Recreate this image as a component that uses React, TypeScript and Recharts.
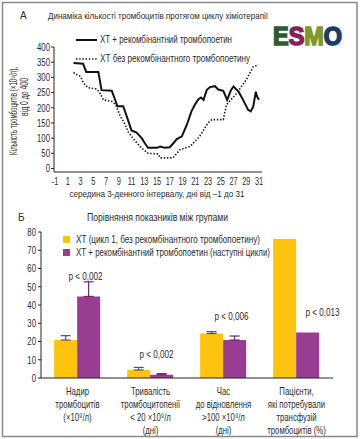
import React from "react";
import {
	LineChart,
	Line,
	XAxis,
	YAxis,
	BarChart,
	Bar,
	ErrorBar,
	ReferenceDot,
} from "recharts";

// панель А: кількість тромбоцитів за днями
const withTpoDays = [
	1.9, 3.4, 3.9, 5.8, 6.3, 7.9, 8.4, 8.8, 9.7, 10.2, 10.6, 11.0, 11.8, 12.6,
	13.2, 13.6, 15.0, 15.5, 16.2, 17.0, 17.6, 18.1, 18.9, 19.7, 20.4, 21.0, 21.5,
	21.9, 22.3, 22.8, 23.3, 24.1, 24.6, 25.4, 26.0, 26.6, 27.0, 27.8, 28.5, 29.3,
	29.7, 30.1, 30.5, 30.7, 31.0,
];
const withTpoValues = [
	347, 345, 318, 318, 258, 256, 228, 205, 205, 175, 150, 125, 118, 100, 80, 68,
	68, 72, 68, 70, 84, 97, 106, 145, 188, 212, 228, 234, 226, 258, 268, 271, 260,
	256, 226, 258, 270, 253, 226, 193, 188, 204, 253, 237, 226,
];
const withoutTpoDays = [
	1.9, 2.5, 3.0, 3.5, 4.2, 5.5, 6.0, 6.6, 7.9, 8.5, 9.2, 10.1, 10.5, 11.0, 11.6,
	12.3, 13.0, 13.6, 15.2, 15.5, 17.5, 18.6, 20.2, 21.7, 23.0, 23.6, 25.4, 25.9,
	27.5, 29.0, 30.1, 30.9,
];
const withoutTpoValues = [
	316, 308, 303, 280, 266, 262, 250, 226, 221, 210, 175, 140, 120, 106, 90, 73,
	60, 50, 48, 35, 35, 62, 73, 106, 150, 161, 161, 210, 248, 292, 335, 341,
];
const dayTicks = [-1, 1, 3, 5, 7, 9, 11, 13, 15, 17, 19, 21, 23, 25, 27, 29, 31];
const countTicks = [0, 50, 100, 150, 200, 250, 300, 350, 400];

// панель Б: порівняння між групами
const groups = [
	"Надир\nтромбоцитів\n(×10⁹/л)",
	"Тривалість\nтромбоцитопенії\n< 20 ×10⁹/л\n(дні)",
	"Час\nдо відновлення\n>100 ×10⁹/л\n(дні)",
	"Пацієнти,\nякі потребували\nтрансфузій\nтромбоцитів (%)",
];
const cycle1Values = [20.8, 4.4, 24.4, 76.2];
const cycle1Errors = [2.4, 1.4, 1.0, null];
const tpoValues = [44.7, 1.8, 20.8, 25.0];
const tpoErrors = [8.0, 0.6, 2.2, null];
const pValues = ["p < 0,002", "p < 0,002", "p < 0,006", "p < 0,013"];
const pLevels = [56, 13, 34, 36];
const barTicks = [0, 10, 20, 30, 40, 50, 60, 70, 80];

const YELLOW = "#FDC40F";
const PURPLE = "#993D93";
const FONT = "'Liberation Sans', Arial, sans-serif";
const INK = "#2b2b2b";
const NARROW = 0.74;

const solidData = withTpoDays.map((d, i) => ({ day: d, v: withTpoValues[i] }));
const dottedData = withoutTpoDays.map((d, i) => ({ day: d, v: withoutTpoValues[i] }));
const barData = groups.map((g, i) => ({
	name: g,
	a: cycle1Values[i],
	aErr: cycle1Errors[i] == null ? null : [0, cycle1Errors[i]],
	b: tpoValues[i],
	bErr: tpoErrors[i] == null ? null : [0, tpoErrors[i]],
}));

function YTick(props: any) {
	const { x, y, payload } = props;
	return (
		<g transform={`translate(${x},${y}) scale(${NARROW},1)`}>
			<text textAnchor="end" dy="0.36em" fontSize={10.5} fill={INK} fontFamily={FONT}>
				{payload.value}
			</text>
		</g>
	);
}

function XTick(props: any) {
	const { x, y, payload } = props;
	return (
		<g transform={`translate(${x},${y}) scale(${NARROW},1)`}>
			<text textAnchor="middle" dy="0.71em" fontSize={10} fill={INK} fontFamily={FONT}>
				{payload.value}
			</text>
		</g>
	);
}

function GroupTick(props: any) {
	const { x, y, payload } = props;
	const lines = String(payload.value).split("\n");
	return (
		<g transform={`translate(${x},${y}) scale(${NARROW},1)`}>
			<text x={0} y={0} textAnchor="middle" fontSize={10.5} fill={INK} fontFamily={FONT}>
				{lines.map((l, i) => (
					<tspan key={i} x={0} dy={i === 0 ? 9.5 : 13}>
						{l}
					</tspan>
				))}
			</text>
		</g>
	);
}

function PLabel(props: any) {
	const { viewBox, text, shift } = props;
	return (
		<g transform={`translate(${viewBox.x + shift},${viewBox.y}) scale(${NARROW},1)`}>
			<text textAnchor="middle" dy="0.36em" fontSize={11} fill={INK} fontFamily={FONT}>
				{text}
			</text>
		</g>
	);
}

const pShift = [8, 6, 8, 26];

export default function App() {
	return (
		<div
			style={{
				position: "absolute",
				left: 0,
				top: 0,
				width: 360,
				height: 439,
				background: "#fff",
				fontFamily: FONT,
				overflow: "hidden",
			}}
		>
			<div style={{ position: "absolute", left: 0, top: 0 }}>
				<LineChart
					width={360}
					height={200}
					margin={{ top: 47, right: 98, bottom: 0, left: 8 }}
				>
					<XAxis
						type="number"
						dataKey="day"
						height={28}
						domain={[-1, 31]}
						padding={{ left: 1, right: 3 }}
						ticks={dayTicks}
						interval={0}
						tickLine={false}
						tickSize={6}
						tickMargin={0}
						stroke="#222"
						tick={<XTick />}
					/>
					<YAxis
						type="number"
						dataKey="v"
						width={46}
						domain={[0, 400]}
						padding={{ top: 0, bottom: 3.5 }}
						ticks={countTicks}
						interval={0}
						tickSize={3}
						tickMargin={1}
						stroke="#222"
						tick={<YTick />}
					/>
					<Line
						data={dottedData}
						dataKey="v"
						type="linear"
						stroke="#111"
						strokeWidth={1.6}
						strokeDasharray="1.4 1.8"
						dot={false}
						isAnimationActive={false}
					/>
					<Line
						data={solidData}
						dataKey="v"
						type="linear"
						stroke="#111"
						strokeWidth={2}
						dot={false}
						isAnimationActive={false}
					/>
				</LineChart>
			</div>
			<div style={{ position: "absolute", left: 0, top: 0 }}>
				<BarChart
					width={360}
					height={439}
					data={barData}
					margin={{ top: 232, right: 27, bottom: 0, left: 6 }}
					barGap={0}
					barCategoryGap="18%"
				>
					<XAxis
						dataKey="name"
						height={61}
						interval={0}
						tickLine={false}
						stroke="#222"
						tick={<GroupTick />}
					/>
					<YAxis
						width={35}
						domain={[0, 80]}
						ticks={barTicks}
						interval={0}
						tickSize={3}
						tickMargin={2}
						stroke="#222"
						tick={<YTick />}
					/>
					<Bar dataKey="a" fill={YELLOW} isAnimationActive={false}>
						<ErrorBar dataKey="aErr" width={5} stroke="#555" strokeWidth={1.2} />
					</Bar>
					<Bar dataKey="b" fill={PURPLE} isAnimationActive={false}>
						<ErrorBar dataKey="bErr" width={5} stroke="#6a2a66" strokeWidth={1.2} />
					</Bar>
					{groups.map((g, i) => (
						<ReferenceDot
							key={i}
							x={g}
							y={pLevels[i]}
							r={0}
							ifOverflow="visible"
							label={<PLabel text={pValues[i]} shift={pShift[i]} />}
						/>
					))}
				</BarChart>
			</div>
			<svg
				width={360}
				height={439}
				style={{ position: "absolute", left: 0, top: 0, pointerEvents: "none" }}
				fontFamily={FONT}
				fill={INK}
			>
				<rect x={2.5} y={2.5} width={354.5} height={434} fill="none" stroke="#888" strokeWidth={1.5} />
				<text x={20} y={19} fontSize={10}>А</text>
				<text x={48} y={19} fontSize={9.5} textLength={220} lengthAdjust="spacingAndGlyphs">
					Динаміка кількості тромбоцитів протягом циклу хіміотерапії
				</text>
				<line x1={76} y1={40} x2={97} y2={40} stroke="#111" strokeWidth={2} />
				<text x={100} y={43} fontSize={10} textLength={132} lengthAdjust="spacingAndGlyphs">
					ХТ + рекомбінантний тромбопоетин
				</text>
				<line x1={76} y1={59} x2={97} y2={59} stroke="#111" strokeWidth={1.6} strokeDasharray="1.4 1.8" />
				<text x={100} y={62} fontSize={10} textLength={150} lengthAdjust="spacingAndGlyphs">
					ХТ без рекомбінантного тромбопоетину
				</text>
				<text
					x={273}
					y={45}
					fontSize={25}
					fontWeight="bold"
					strokeWidth={1.6}
					textLength={69}
					lengthAdjust="spacingAndGlyphs"
				>
					<tspan fill="#2f5a2c" stroke="#2f5a2c">E</tspan>
					<tspan fill="#8a1f57" stroke="#8a1f57">S</tspan>
					<tspan fill="#7d9a2a" stroke="#7d9a2a">M</tspan>
					<tspan fill="#1b3b6b" stroke="#1b3b6b">O</tspan>
				</text>
				<text transform="translate(17,111) rotate(-90)" textAnchor="middle" fontSize={10} textLength={88} lengthAdjust="spacingAndGlyphs">
					Кількість тромбоцитів (×10⁹/л),
				</text>
				<text transform="translate(28,97) rotate(-90)" textAnchor="middle" fontSize={10} textLength={38} lengthAdjust="spacingAndGlyphs">
					від 0 до 400
				</text>
				<text x={157} y={197} textAnchor="middle" fontSize={9.5} textLength={175} lengthAdjust="spacingAndGlyphs">
					середина 3-денного інтервалу, дні від –1 до 31
				</text>
				<text x={18} y={221} fontSize={10}>Б</text>
				<text x={87} y={221} fontSize={10} textLength={141} lengthAdjust="spacingAndGlyphs">
					Порівняння показників між групами
				</text>
				<rect x={63} y={236} width={7} height={7} fill={YELLOW} />
				<text x={76} y={243} fontSize={10} textLength={184} lengthAdjust="spacingAndGlyphs">
					ХТ (цикл 1, без рекомбінантного тромбопоетину)
				</text>
				<rect x={63} y={249} width={7} height={7} fill={PURPLE} />
				<text x={76} y={256} fontSize={10} textLength={194} lengthAdjust="spacingAndGlyphs">
					ХТ + рекомбінантний тромбопоетин (наступні цикли)
				</text>
			</svg>
		</div>
	);
}
